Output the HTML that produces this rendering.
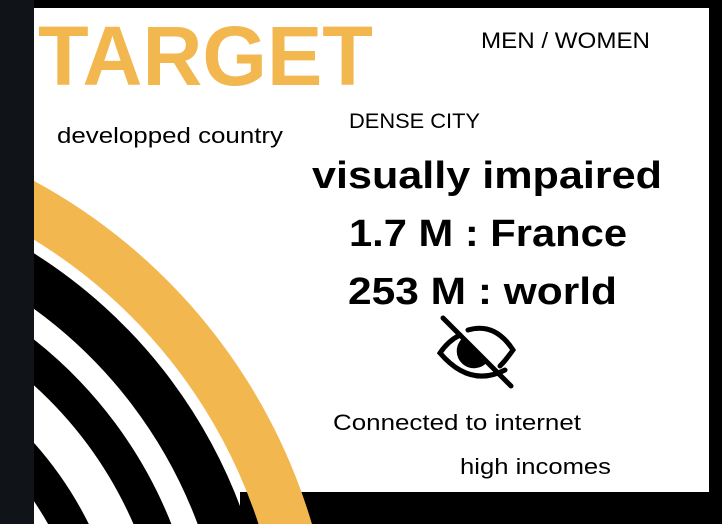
<!DOCTYPE html>
<html><head><meta charset="utf-8"><style>
html,body{margin:0;padding:0;background:#000;width:722px;height:524px;overflow:hidden;}
svg{display:block}
text{font-family:"Liberation Sans",sans-serif;fill:#000}
</style></head><body>
<svg width="722" height="524" viewBox="0 0 722 524">
<rect x="0" y="0" width="722" height="524" fill="#000"/>
<rect x="0" y="0" width="34" height="524" fill="#101418"/>
<rect x="34" y="8" width="675" height="484" fill="#fff"/>
<rect x="34" y="480" width="206" height="44" fill="#fff"/>
<g>
  <path id="ring0" fill="#F2B84F"/>
  <path id="ring1" fill="#000"/>
  <path id="ring2" fill="#000"/>
  <path id="ring3" fill="#000"/>
</g>
<text x="38" y="85" font-size="84" font-weight="bold" style="fill:#F2B84F" textLength="335" lengthAdjust="spacingAndGlyphs">TARGET</text>
<text x="481" y="48" font-size="22" textLength="169" lengthAdjust="spacingAndGlyphs">MEN / WOMEN</text>
<text x="57" y="143" font-size="22" textLength="226" lengthAdjust="spacingAndGlyphs">developped country</text>
<text x="349" y="128" font-size="21" textLength="131" lengthAdjust="spacingAndGlyphs">DENSE CITY</text>
<text x="312" y="188" font-size="38" font-weight="bold" textLength="350" lengthAdjust="spacingAndGlyphs">visually impaired</text>
<text x="349" y="246" font-size="38" font-weight="bold" textLength="278" lengthAdjust="spacingAndGlyphs">1.7 M : France</text>
<text x="348" y="304" font-size="38" font-weight="bold" textLength="269" lengthAdjust="spacingAndGlyphs">253 M : world</text>
<g fill="none" stroke="#000" stroke-width="5" stroke-linecap="round">
  <path d="M460 335 Q448 341 440 353 Q470 388 505 370"/>
  <path d="M468 330 Q495 322 513 350 Q506 360 500 366"/>
  <path d="M462 340 A14 14 0 0 0 486 362 Z" fill="#000" stroke-width="2"/>
  <line x1="443" y1="318" x2="511" y2="386"/>
</g>
<text x="333" y="430" font-size="22" textLength="248" lengthAdjust="spacingAndGlyphs">Connected to internet</text>
<text x="460" y="474" font-size="22" textLength="151" lengthAdjust="spacingAndGlyphs">high incomes</text>
</svg>
<script>
var cx=-240, cy=687, left=34, bottom=524;
var inner=[524.5,467,407.5,331];
var outer=[575.5,513,442.5,367];
for(var i=0;i<inner.length;i++){
  var r1=inner[i], r2=outer[i];
  var y2=cy-Math.sqrt(r2*r2-(left-cx)*(left-cx));
  var x2=cx+Math.sqrt(r2*r2-(bottom-cy)*(bottom-cy));
  var y1=cy-Math.sqrt(r1*r1-(left-cx)*(left-cx));
  var x1=cx+Math.sqrt(r1*r1-(bottom-cy)*(bottom-cy));
  var d='M'+left+' '+y2+' A'+r2+' '+r2+' 0 0 1 '+x2+' '+bottom+' L'+x1+' '+bottom+' A'+r1+' '+r1+' 0 0 0 '+left+' '+y1+' Z';
  document.getElementById('ring'+i).setAttribute('d',d);
}
</script>
</body></html>
